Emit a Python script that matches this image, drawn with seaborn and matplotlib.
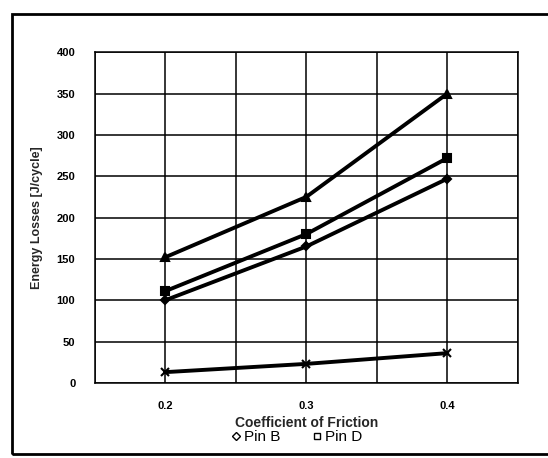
import matplotlib
matplotlib.use("Agg")
import matplotlib.pyplot as plt
import seaborn as sns
import pandas as pd
from matplotlib.lines import Line2D
from matplotlib.patches import Rectangle

friction = [0.2, 0.3, 0.4]
pin_b = [100, 165, 247]
pin_d = [111, 180, 272]
series_tri = [152, 225, 350]
series_x = [13, 23, 36]
y_ticks = [0, 50, 100, 150, 200, 250, 300, 350, 400]
x_tick_labels = ["0.2", "0.3", "0.4"]

sns.set_theme(style="white")
plt.rcParams['font.family'] = ['Liberation Sans', 'DejaVu Sans']

fig = plt.figure(figsize=(5.48, 4.58), dpi=100)
ax = fig.add_axes([0.173, 0.164, 0.772, 0.722])

df = pd.DataFrame({
    "x": friction * 4,
    "y": pin_b + pin_d + series_tri + series_x,
    "s": ["Pin B"] * 3 + ["Pin D"] * 3 + ["Tri"] * 3 + ["X"] * 3,
})
markers = {"Pin B": "D", "Pin D": "s", "Tri": "^", "X": "x"}
sizes = {"Pin B": 4, "Pin D": 6, "Tri": 6, "X": 6}
for name, sub in df.groupby("s"):
    sns.lineplot(data=sub, x="x", y="y", ax=ax, color="black", lw=2.8,
                 marker=markers[name], markersize=sizes[name],
                 markeredgecolor="black", markeredgewidth=1.5, legend=False)

ax.set_xlim(0.15, 0.45)
ax.set_ylim(0, 400)
ax.set_xticks([0.15, 0.2, 0.25, 0.3, 0.35, 0.4, 0.45])
ax.set_xticklabels(["", x_tick_labels[0], "", x_tick_labels[1], "", x_tick_labels[2], ""])
ax.set_yticks(y_ticks)
ax.set_yticklabels([str(v) for v in y_ticks])
ax.grid(True, color="black", lw=1.1)
for sp in ax.spines.values():
    sp.set_color("black")
    sp.set_linewidth(1.1)
ax.tick_params(axis="both", labelsize=8, colors="black", length=0)
ax.tick_params(axis="x", pad=13)
ax.tick_params(axis="y", pad=14)
for t in ax.get_xticklabels() + ax.get_yticklabels():
    t.set_fontweight("bold")

ax.set_xlabel("Coefficient of Friction", fontsize=10, fontweight="bold")
ax.xaxis.set_label_coords(0.5, -0.1)
ax.set_ylabel("Energy Losses [J/cycle]", fontsize=9, fontweight="bold", labelpad=10)

handles = [
    Line2D([], [], marker="D", color="black", markerfacecolor="white", markersize=4, lw=0),
    Line2D([], [], marker="s", color="black", markerfacecolor="white", markersize=5, lw=0),
]
fig.legend(handles, ["Pin B", "Pin D"], loc="center", bbox_to_anchor=(0.54, 0.045),
           ncol=2, frameon=False, fontsize=11, handletextpad=0.1, columnspacing=2.0,
           handlelength=0.8, labelcolor="black")

fig.patches.append(Rectangle((12 / 548, 1 - 454 / 458), 0.99, (454 - 14) / 458,
                             transform=fig.transFigure, fill=False, ec="black", lw=2))

fig.savefig("out.png", dpi=100, facecolor="white")
